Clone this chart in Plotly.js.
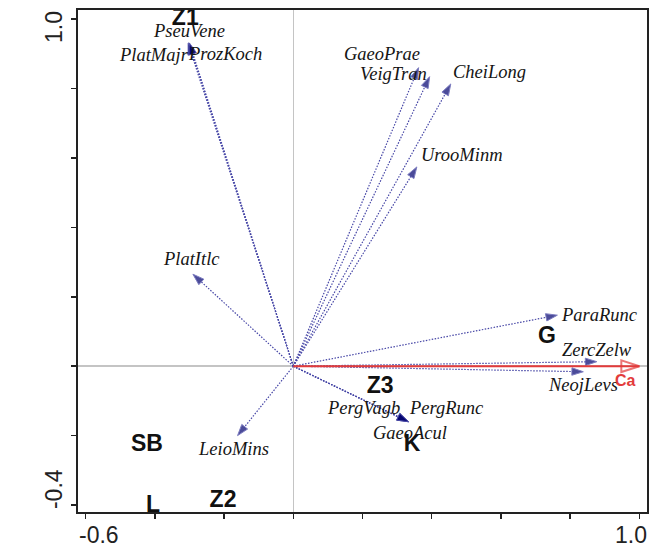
<!DOCTYPE html>
<html>
<head>
<meta charset="utf-8">
<script src="https://cdn.plot.ly/plotly-3.0.1.min.js"></script>
<style>html,body{margin:0;padding:0;background:#fff;}#chart{width:656px;height:547px;}</style>
</head>
<body>
<div id="chart"></div>
<script>
// Species arrows (biplot scores)
var speciesNames = ["PseuVene","PlatMajr","ProzKoch","PlatItlc","GaeoPrae","VeigTran","CheiLong","UrooMinm","ParaRunc","ZercZelw","NeojLevs","PergVagb","PergRunc","GaeoAcul","LeioMins"];
var speciesX = [-0.302,-0.304,-0.300,-0.290,0.362,0.394,0.455,0.357,0.763,0.877,0.838,0.333,0.333,0.333,-0.161];
var speciesY = [0.932,0.930,0.931,0.265,0.860,0.834,0.813,0.574,0.147,0.013,-0.016,-0.160,-0.160,-0.160,-0.200];

// Sample / class labels
var sampleNames = ["Z1","Z2","Z3","SB","L","K","G"];
var sampleX = [-0.312,-0.203,0.251,-0.423,-0.405,0.343,0.733];
var sampleY = [1.000,-0.388,-0.061,-0.228,-0.402,-0.228,0.083];

// Environmental variable
var envNames = ["Ca"];
var envX = [1.0];
var envY = [0.0];

// Axis ticks
var xTickVals = [-0.6,-0.4,-0.2,0,0.2,0.4,0.6,0.8,1.0];
var yTickVals = [-0.4,-0.2,0,0.2,0.4,0.6,0.8,1.0];
var xTickLabels = {"-0.6": "-0.6", "1": "1.0"};
var yTickLabels = {"-0.4": "-0.4", "1": "1.0"};

// label placement offsets (pixels): [xshift, yshift, xanchor]
var labelStyle = {
  PseuVene: [0, 12, "center"],
  PlatMajr: [2, -11.3, "right"],
  ProzKoch: [-2, -11.3, "left"],
  PlatItlc: [-1, 15, "center"],
  GaeoPrae: [-37, 13.4, "center"],
  VeigTran: [-36, 2.7, "center"],
  CheiLong: [39, 12, "center"],
  UrooMinm: [45, 12, "center"],
  ParaRunc: [42, 0, "center"],
  ZercZelw: [0, 12, "center"],
  NeojLevs: [0, -13, "center"],
  PergVagb: [-45, 14, "center"],
  PergRunc: [38, 14, "center"],
  GaeoAcul: [1, -11.6, "center"],
  LeioMins: [-4, -13, "center"]
};

var traces = [];
var annotations = [];
for (var i = 0; i < speciesNames.length; i++) {
  traces.push({
    type: "scatter", mode: "lines+markers",
    x: [0, speciesX[i]], y: [0, speciesY[i]],
    line: {color: "#4646a6", width: 1.2, dash: "1.5px,1.5px"},
    marker: {symbol: "arrow", angleref: "previous", size: [0, 12], color: "#00006e"},
    hoverinfo: "skip", showlegend: false, cliponaxis: false
  });
  var st = labelStyle[speciesNames[i]];
  annotations.push({
    x: speciesX[i], y: speciesY[i], xref: "x", yref: "y",
    text: speciesNames[i], showarrow: false,
    xshift: st[0], yshift: st[1], xanchor: st[2], yanchor: "middle",
    borderpad: 0,
    font: {family: "Liberation Serif, Times New Roman, serif", size: 18.5, style: "italic", color: "#151515"}
  });
}

// Ca arrow
traces.push({
  type: "scatter", mode: "lines+markers",
  x: [0, envX[0]], y: [0, envY[0]],
  line: {color: "#e33b3b", width: 2, backoff: 0},
  marker: {symbol: "arrow-open", angleref: "previous", size: [0, 19], color: "#e33b3b", line: {color: "#e33b3b", width: 2}},
  hoverinfo: "skip", showlegend: false, cliponaxis: false
});
annotations.push({
  x: envX[0], y: envY[0], xref: "x", yref: "y", text: envNames[0], showarrow: false,
  xshift: -14, yshift: -14.7, xanchor: "center", yanchor: "middle", borderpad: 0,
  font: {family: "Liberation Sans, Arial, sans-serif", size: 16, weight: "bold", color: "#e33b3b"}
});

// Sample labels
traces.push({
  type: "scatter", mode: "text",
  x: sampleX, y: sampleY, text: sampleNames, textposition: "middle center",
  textfont: {family: "Liberation Sans, Arial, sans-serif", size: 23, weight: "bold", color: "#111"},
  hoverinfo: "skip", showlegend: false, cliponaxis: false
});

// Tick labels (only the end ticks are labelled, pulled inward as in the original)
var tickFont = {family: "Liberation Sans, Arial, sans-serif", size: 23, color: "#222"};
xTickVals.forEach(function (v) {
  var t = xTickLabels[String(v)];
  if (!t) return;
  annotations.push({
    x: v, y: 0, xref: "x", yref: "paper", text: t, showarrow: false,
    xanchor: v < 0 ? "left" : "right", yanchor: "middle",
    xshift: v < 0 ? -8 : 9, yshift: -23, borderpad: 0, font: tickFont
  });
});
yTickVals.forEach(function (v) {
  var t = yTickLabels[String(v)];
  if (!t) return;
  annotations.push({
    x: 0, y: v, xref: "paper", yref: "y", text: t, showarrow: false, textangle: -90,
    xanchor: "center", yanchor: v < 0 ? "bottom" : "top",
    xshift: -24, yshift: v < 0 ? -5 : 9, borderpad: 0, font: tickFont
  });
});

var layout = {
  width: 656, height: 547,
  margin: {l: 78, r: 9, t: 10, b: 35, pad: 0},
  paper_bgcolor: "#fff", plot_bgcolor: "#fff",
  showlegend: false,
  xaxis: {
    range: [-0.622, 1.022], showgrid: false,
    zeroline: true, zerolinecolor: "#c4c4c4", zerolinewidth: 1.5,
    showline: true, mirror: true, linecolor: "#222", linewidth: 2,
    ticks: "outside", ticklen: 5, tickwidth: 1.5, tickcolor: "#222",
    tickvals: xTickVals, showticklabels: false
  },
  yaxis: {
    range: [-0.42, 1.026], showgrid: false,
    zeroline: true, zerolinecolor: "#c4c4c4", zerolinewidth: 1.5,
    showline: true, mirror: true, linecolor: "#222", linewidth: 2,
    ticks: "outside", ticklen: 5, tickwidth: 1.5, tickcolor: "#222",
    tickvals: yTickVals, showticklabels: false
  },
  annotations: annotations
};

Plotly.newPlot("chart", traces, layout, {displayModeBar: false, staticPlot: true});
</script>
</body>
</html>
